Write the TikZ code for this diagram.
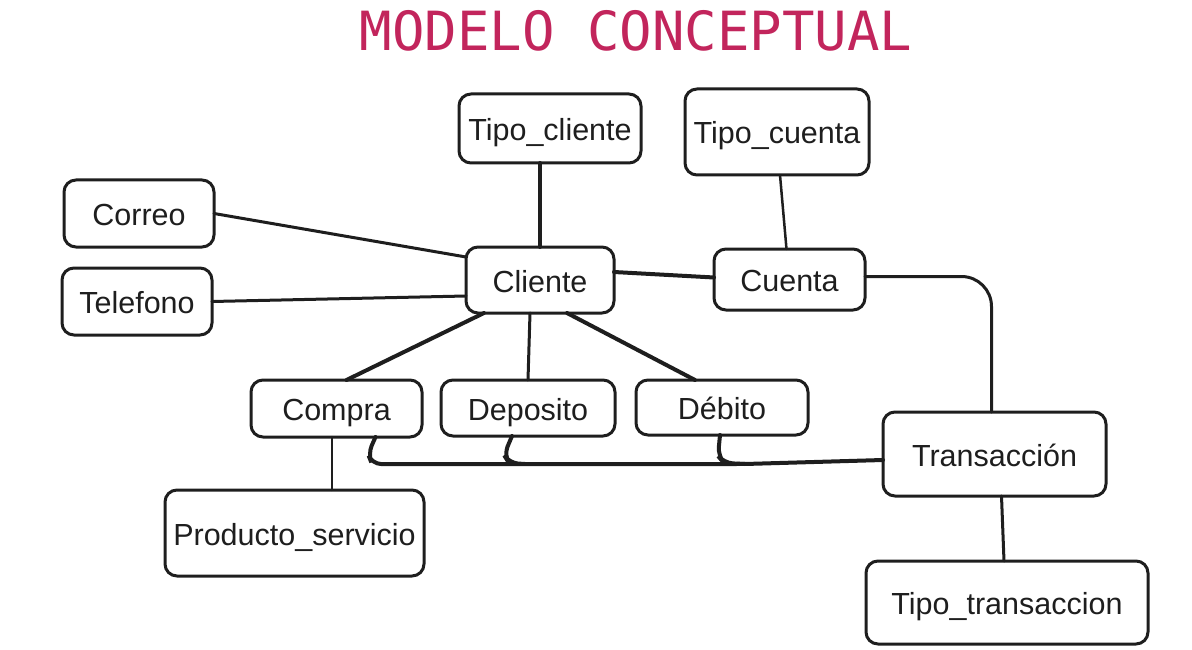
\documentclass[tikz,border=0pt]{standalone}
\usepackage{fontspec}
\setmainfont{Liberation Sans}
\newfontfamily\titlefont{DejaVu Sans Mono}
\definecolor{titlered}{HTML}{C2255C}
\definecolor{ink}{HTML}{1E1E1E}
\begin{document}
\begin{tikzpicture}[x=1pt,y=-1pt,
  box/.style={draw=ink, line width=3pt, rounded corners=12pt, inner sep=0pt, outer sep=0pt,
    font=\fontsize{30.5}{34}\selectfont, text=ink, text height=24pt, text depth=0pt},
  link/.style={draw=ink, line width=3pt, line cap=round},
  thick link/.style={draw=ink, line width=4pt, line cap=round},
  thin link/.style={draw=ink, line width=2.5pt, line cap=round}]
\useasboundingbox (0,0) rectangle (1192,650);
\node[text=titlered, font=\titlefont\fontsize{54}{60}\selectfont] (title) at (636,31) {MODELO CONCEPTUAL};

\node[box, minimum width=182pt, minimum height=69pt] (tcli) at (550,128.5) {Tipo\_cliente};
\node[box, minimum width=184pt, minimum height=86pt] (tcue) at (777,132) {Tipo\_cuenta};
\node[box, minimum width=150pt, minimum height=67pt] (cor) at (139,213.5) {Correo};
\node[box, minimum width=150pt, minimum height=67pt] (tel) at (137,301.5) {Telefono};
\node[box, minimum width=148pt, minimum height=66pt] (cli) at (540,280) {Cliente};
\node[box, minimum width=151pt, minimum height=61pt] (cue) at (789.5,279.5) {Cuenta};
\node[box, minimum width=171pt, minimum height=57pt] (com) at (336.5,408.5) {Compra};
\node[box, minimum width=174pt, minimum height=56pt] (dep) at (528,408) {Deposito};
\node[box, minimum width=172pt, minimum height=55pt] (deb) at (722,407.5) {Débito};
\node[box, minimum width=223pt, minimum height=84pt] (tra) at (994.5,454) {Transacción};
\node[box, minimum width=259pt, minimum height=86pt] (prod) at (294.5,533) {Producto\_servicio};
\node[box, minimum width=282pt, minimum height=83pt] (ttra) at (1007,602.5) {Tipo\_transaccion};

% connectors
\draw[thick link] ([xshift=-10pt]tcli.south) -- (cli.north);
\draw[thin link] ([xshift=3pt]tcue.south) -- ([xshift=-3pt]cue.north);
\draw[link] (cor.east) -- ([yshift=23pt]cli.west);
\draw[link] (tel.east) -- ([yshift=-16pt]cli.west);
\draw[thick link] ([yshift=8pt]cli.east) -- ([yshift=2pt]cue.west);
\draw[thick link] ([xshift=-56pt]cli.south) -- ([xshift=10pt]com.north);
\draw[link] ([xshift=-10pt]cli.south) -- (dep.north);
\draw[thick link] ([xshift=27pt]cli.south) -- ([xshift=-27pt]deb.north);
\draw[link, rounded corners=30pt] ([yshift=3pt]cue.east) -| ([xshift=-3pt]tra.north);
\draw[thin link] ([xshift=-4.5pt]com.south) -- ([xshift=37.5pt]prod.north);
\draw[link] ([xshift=7pt]tra.south) -- ([xshift=-3pt]ttra.north);

% bus to Transaccion
\coordinate (busD) at (525,464);
\coordinate (busB) at (745,464);
\draw[thick link, rounded corners=9pt] ([xshift=39pt]com.south) -- (368,454) -- (372,464) -- (busB) -- ([yshift=-6pt]tra.west);
\draw[thick link, rounded corners=9pt] ([xshift=-16pt]dep.south) -- (504,455) -- (509,463) -- (busD);
\draw[thick link, rounded corners=9pt] ([xshift=-2pt]deb.south) -- (718,456) -- (724,463) -- (busB);
\end{tikzpicture}
\end{document}
